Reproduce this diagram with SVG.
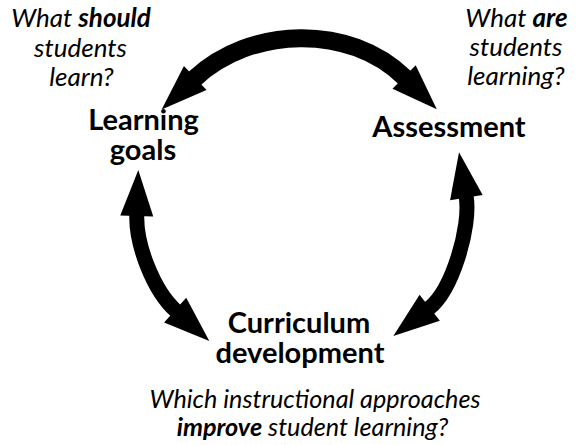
<svg xmlns="http://www.w3.org/2000/svg" width="576" height="445" viewBox="0 0 576 445">
  <style>
    .lbl { font-family: Lato, "Open Sans", "Liberation Sans", sans-serif; font-weight: bold; font-size: 29px; fill: #000; text-anchor: middle; }
    .q { font-family: Lato, "Open Sans", "Liberation Sans", sans-serif; font-style: italic; font-size: 26px; fill: #000; text-anchor: middle; }
    .qs { font-size: 25.2px; }
    .b { font-weight: bold; }
    .arc { fill: none; stroke: #000; }
  </style>
  <defs>
    <marker id="head" markerUnits="userSpaceOnUse" orient="auto-start-reverse" refX="0" refY="0" markerWidth="60" markerHeight="40" overflow="visible">
      <path d="M-1,-16.5 L45,0 L-1,16.5 Z" fill="#000"/>
    </marker>
  </defs>
  <rect width="576" height="445" fill="#fff"/>
  <g id="connectors">
    <path class="arc" stroke-width="18" d="M194.5,78.6 C250.6,26 350.1,23.6 404.8,77.7" marker-start="url(#head)" marker-end="url(#head)"/>
    <path class="arc" stroke-width="15" d="M136.8,215 C135.8,245 153.6,290.7 175.9,310.8" marker-start="url(#head)" marker-end="url(#head)"/>
    <path class="arc" stroke-width="15" d="M466.2,196.7 C471,226.3 452.6,290 428.9,308.4" marker-start="url(#head)" marker-end="url(#head)"/>
  </g>
  <g id="learning-goals">
    <text class="lbl" x="143.5" y="130">Learning</text>
    <text class="lbl" x="143" y="160">goals</text>
  </g>
  <g id="assessment">
    <text class="lbl" x="449" y="136.7">Assessment</text>
  </g>
  <g id="curriculum-development">
    <text class="lbl" x="299" y="332.7">Curriculum</text>
    <text class="lbl" x="300" y="363.3">development</text>
  </g>
  <g id="q-learning-goals">
    <text class="q" x="81" y="26.7">What <tspan class="b">should</tspan></text>
    <text class="q" x="80.5" y="56.5">students</text>
    <text class="q" x="81.5" y="86">learn?</text>
  </g>
  <g id="q-assessment">
    <text class="q" x="516.5" y="26.7">What <tspan class="b">are</tspan></text>
    <text class="q" x="516" y="55.5">students</text>
    <text class="q" x="516" y="85">learning?</text>
  </g>
  <g id="q-curriculum">
    <text class="q qs" x="315" y="408.3">Which instructional approaches</text>
    <text class="q qs" x="312.5" y="436"><tspan class="b">improve</tspan> student learning?</text>
  </g>
</svg>
